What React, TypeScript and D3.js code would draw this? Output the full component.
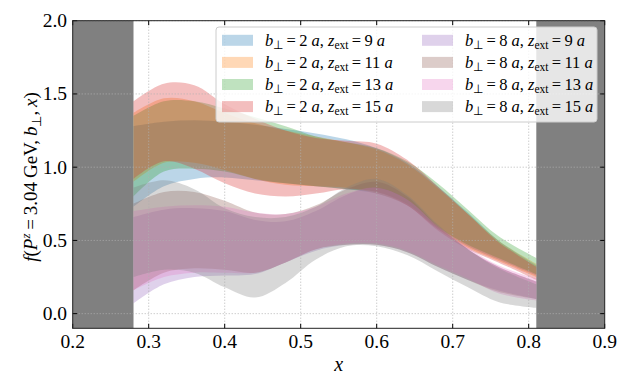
import * as d3 from 'd3';

// sample positions in x (support of the bands)
const xs = [0.28, 0.32, 0.36, 0.4, 0.44, 0.48, 0.52, 0.56, 0.6, 0.64, 0.68, 0.72, 0.76, 0.81];

// b_perp = 2a
const b2z9Hi = [1.28, 1.31, 1.32, 1.31, 1.29, 1.26, 1.23, 1.19, 1.13, 1.03, 0.87, 0.69, 0.5, 0.33];
const b2z9Lo = [0.73, 0.87, 0.92, 0.93, 0.91, 0.89, 0.87, 0.85, 0.82, 0.74, 0.58, 0.46, 0.37, 0.26];
const b2z11Hi = [1.37, 1.47, 1.45, 1.37, 1.3, 1.25, 1.21, 1.17, 1.12, 1.02, 0.86, 0.68, 0.5, 0.34];
const b2z11Lo = [0.9, 1.03, 1.03, 0.98, 0.92, 0.88, 0.87, 0.86, 0.82, 0.74, 0.58, 0.45, 0.36, 0.25];
const b2z13Hi = [1.35, 1.45, 1.45, 1.4, 1.34, 1.28, 1.21, 1.17, 1.13, 1.04, 0.89, 0.71, 0.53, 0.38];
const b2z13Lo = [0.8, 0.97, 0.99, 0.97, 0.92, 0.89, 0.87, 0.85, 0.83, 0.75, 0.59, 0.47, 0.38, 0.27];
const b2z15Hi = [1.45, 1.57, 1.56, 1.43, 1.33, 1.25, 1.2, 1.18, 1.16, 1.05, 0.87, 0.68, 0.49, 0.32];
const b2z15Lo = [0.92, 1.04, 0.99, 0.89, 0.82, 0.8, 0.82, 0.85, 0.83, 0.74, 0.57, 0.44, 0.35, 0.23];

// b_perp = 8a
const b8z9Hi = [0.66, 0.71, 0.72, 0.7, 0.64, 0.63, 0.7, 0.81, 0.86, 0.78, 0.59, 0.44, 0.32, 0.22];
const b8z9Lo = [0.07, 0.2, 0.25, 0.26, 0.27, 0.35, 0.43, 0.47, 0.47, 0.42, 0.32, 0.23, 0.16, 0.1];
const b8z11Hi = [0.75, 0.83, 0.83, 0.77, 0.69, 0.68, 0.74, 0.85, 0.9, 0.8, 0.6, 0.44, 0.32, 0.22];
const b8z11Lo = [0.16, 0.28, 0.31, 0.3, 0.28, 0.35, 0.44, 0.47, 0.47, 0.42, 0.32, 0.23, 0.15, 0.1];
const b8z13Hi = [0.7, 0.73, 0.74, 0.73, 0.69, 0.68, 0.73, 0.82, 0.86, 0.78, 0.6, 0.45, 0.33, 0.24];
const b8z13Lo = [0.16, 0.25, 0.28, 0.28, 0.28, 0.35, 0.44, 0.48, 0.48, 0.43, 0.33, 0.24, 0.14, 0.09];
const b8z15Hi = [0.86, 0.91, 0.85, 0.72, 0.66, 0.66, 0.73, 0.86, 0.92, 0.81, 0.61, 0.44, 0.31, 0.2];
const b8z15Lo = [0.25, 0.3, 0.28, 0.18, 0.11, 0.21, 0.37, 0.46, 0.46, 0.4, 0.29, 0.18, 0.08, 0.04];

const bPerp = [2, 2, 2, 2, 8, 8, 8, 8];
const zExt = [9, 11, 13, 15, 9, 11, 13, 15];
const colors = ['#1f77b4', '#ff7f0e', '#2ca02c', '#d62728', '#9467bd', '#8c564b', '#e377c2', '#7f7f7f'];
const his = [b2z9Hi, b2z11Hi, b2z13Hi, b2z15Hi, b8z9Hi, b8z11Hi, b8z13Hi, b8z15Hi];
const los = [b2z9Lo, b2z11Lo, b2z13Lo, b2z15Lo, b8z9Lo, b8z11Lo, b8z13Lo, b8z15Lo];

const xTicks = [0.2, 0.3, 0.4, 0.5, 0.6, 0.7, 0.8, 0.9];
const yTicks = [0, 0.5, 1, 1.5, 2];
const excluded = [[0.2, 0.28], [0.81, 0.9]];

const W = 631;
const H = 390;
const FONT = "'Liberation Serif', 'Times New Roman', serif";
const thin = '\u2009';

const x = d3.scaleLinear([0.2, 0.9], [72.7, 604.7]);
const y = d3.scaleLinear([-0.1, 2.0], [328.3, 20.7]);

const area = d3
  .area<number>()
  .curve(d3.curveCatmullRom)
  .x((_, i) => x(xs[i]));

const LegendLabel = ({ tx, ty, i }: { tx: number; ty: number; i: number }) => (
  <text x={tx} y={ty} fontSize={16.5} fontFamily={FONT} fill="#000">
    <tspan fontStyle="italic">b</tspan>
    <tspan fontSize={11.5} dy={3}>⊥</tspan>
    <tspan dy={-3}>{`${thin}=${thin}${bPerp[i]} `}</tspan>
    <tspan fontStyle="italic">a</tspan>
    <tspan>, </tspan>
    <tspan fontStyle="italic">z</tspan>
    <tspan fontSize={11.5} dy={3}>ext</tspan>
    <tspan dy={-3}>{`${thin}=${thin}${zExt[i]} `}</tspan>
    <tspan fontStyle="italic">a</tspan>
  </text>
);

export default function App() {
  const [x0, x1] = x.range();
  const [y0, y1] = y.range();
  const tick = 4.5;

  return (
    <svg width={W} height={H} style={{ position: 'absolute', left: 0, top: 0, background: '#fff' }}>
      {/* excluded x regions */}
      {excluded.map(([a, b], k) => (
        <rect key={k} x={x(a)} y={y1} width={x(b) - x(a)} height={y0 - y1} fill="#808080" />
      ))}

      {/* bands */}
      {colors.map((c, i) => (
        <path
          key={i}
          d={area.y0((_, j) => y(los[i][j])).y1((_, j) => y(his[i][j]))(xs) ?? ''}
          fill={c}
          fillOpacity={0.3}
        />
      ))}

      {/* grid */}
      <g stroke="#b0b0b0" strokeWidth={0.9} strokeDasharray="1,2">
        {xTicks.slice(1, -1).map((t) => (
          <line key={t} x1={x(t)} x2={x(t)} y1={y1} y2={y0} />
        ))}
        {yTicks.map((t) => (
          <line key={t} x1={x0} x2={x1} y1={y(t)} y2={y(t)} />
        ))}
      </g>

      {/* ticks, inward on all sides */}
      <g stroke="#000" strokeWidth={1}>
        {xTicks.map((t) => (
          <g key={t}>
            <line x1={x(t)} x2={x(t)} y1={y0} y2={y0 - tick} />
            <line x1={x(t)} x2={x(t)} y1={y1} y2={y1 + tick} />
          </g>
        ))}
        {yTicks.map((t) => (
          <g key={t}>
            <line x1={x0} x2={x0 + tick} y1={y(t)} y2={y(t)} />
            <line x1={x1} x2={x1 - tick} y1={y(t)} y2={y(t)} />
          </g>
        ))}
      </g>
      <rect x={x0} y={y1} width={x1 - x0} height={y0 - y1} fill="none" stroke="#222" strokeWidth={1} />

      {/* tick labels */}
      <g fontFamily={FONT} fontSize={19.5} fill="#000">
        {xTicks.map((t) => (
          <text key={t} x={x(t)} y={348} textAnchor="middle">
            {d3.format('.1f')(t)}
          </text>
        ))}
        {yTicks.map((t) => (
          <text key={t} x={67} y={y(t) + 6.5} textAnchor="end">
            {d3.format('.1f')(t)}
          </text>
        ))}
      </g>

      {/* axis labels */}
      <text x={(x0 + x1) / 2} y={371} textAnchor="middle" fontFamily={FONT} fontSize={20} fontStyle="italic">
        x
      </text>
      <text transform={`translate(37,177) rotate(-90)`} textAnchor="middle" fontFamily={FONT} fontSize={19}>
        <tspan fontStyle="italic">f</tspan>
        <tspan>(</tspan>
        <tspan fontStyle="italic">P</tspan>
        <tspan fontStyle="italic" fontSize={13} dy={-7}>z</tspan>
        <tspan dy={7}>{`${thin}=${thin}3.04${thin}GeV,${thin}`}</tspan>
        <tspan fontStyle="italic">b</tspan>
        <tspan fontSize={13} dy={4}>⊥</tspan>
        <tspan dy={-4}>{`,${thin}`}</tspan>
        <tspan fontStyle="italic">x</tspan>
        <tspan>)</tspan>
      </text>

      {/* legend */}
      <rect x={216} y={27} width={381} height={95} rx={3} fill="#fff" fillOpacity={0.8} stroke="#cccccc" strokeWidth={1} />
      {colors.map((c, i) => {
        const col = Math.floor(i / 4);
        const row = i % 4;
        const cy = 40.3 + row * 22.1;
        const px = 222 + col * 200;
        return (
          <g key={i}>
            <rect x={px} y={cy - 5.5} width={31} height={11} fill={c} fillOpacity={0.3} />
            <LegendLabel tx={px + 43} ty={cy + 5.5} i={i} />
          </g>
        );
      })}
    </svg>
  );
}
